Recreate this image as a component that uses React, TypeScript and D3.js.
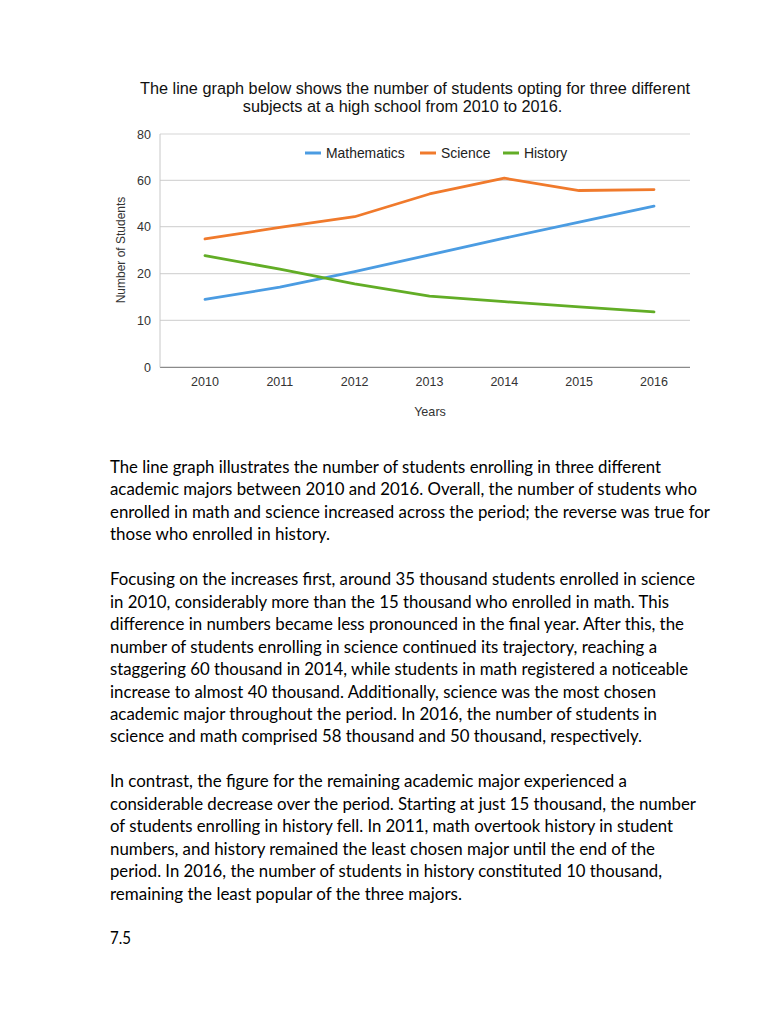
import React from "react";
import * as d3 from "d3";

const years = [2010, 2011, 2012, 2013, 2014, 2015, 2016];
const yTicks = [0, 10, 20, 40, 60, 80];
const mathematics = [14.5, 17.1, 20.9, 28.0, 35.1, 42.0, 48.9];
const science = [34.8, 39.7, 44.3, 54.1, 60.9, 55.6, 56.0];
const history = [27.7, 21.9, 17.8, 15.2, 14.0, 12.9, 11.8];
const seriesNames = ["Mathematics", "Science", "History"];
const seriesColors = ["#4b9ce2", "#f07a2c", "#62ad26"];

const titleLines = [
  "The line graph below shows the number of students opting for three different",
  "subjects at a high school from 2010 to 2016.",
];

const paragraphs = [
  [
    "The line graph illustrates the number of students enrolling in three different",
    "academic majors between 2010 and 2016. Overall, the number of students who",
    "enrolled in math and science increased across the period; the reverse was true for",
    "those who enrolled in history.",
  ],
  [
    "Focusing on the increases first, around 35 thousand students enrolled in science",
    "in 2010, considerably more than the 15 thousand who enrolled in math. This",
    "difference in numbers became less pronounced in the final year. After this, the",
    "number of students enrolling in science continued its trajectory, reaching a",
    "staggering 60 thousand in 2014, while students in math registered a noticeable",
    "increase to almost 40 thousand. Additionally, science was the most chosen",
    "academic major throughout the period. In 2016, the number of students in",
    "science and math comprised 58 thousand and 50 thousand, respectively.",
  ],
  [
    "In contrast, the figure for the remaining academic major experienced a",
    "considerable decrease over the period. Starting at just 15 thousand, the number",
    "of students enrolling in history fell. In 2011, math overtook history in student",
    "numbers, and history remained the least chosen major until the end of the",
    "period. In 2016, the number of students in history constituted 10 thousand,",
    "remaining the least popular of the three majors.",
  ],
  ["7.5"],
];

// layout: right edge of each paragraph line as laid out in the page
const lineRightEdges = [
  [661, 697, 710, 330],
  [695, 669, 684, 657, 688, 656, 657, 642],
  [627, 696, 673, 655, 662, 462],
  [131],
];

export default function App() {
  const W = 768;
  const H = 1024;
  const plotLeft = 160;
  const plotRight = 690;
  const x = d3.scaleLinear().domain([2010, 2016]).range([205, 654]);
  const y = d3
    .scaleLinear()
    .domain(yTicks)
    .range([367.3, 320.3, 273.7, 226.7, 180.3, 134]);
  const data = [mathematics, science, history];
  const line = d3
    .line<number>()
    .x((_, i) => x(years[i]))
    .y((d) => y(d));

  const chartFont = "'Liberation Sans', Arial, sans-serif";
  const textFont = "Lato, 'Open Sans', sans-serif";

  const legendItems = [
    { sx: 305, tx: 326 },
    { sx: 420, tx: 441 },
    { sx: 503, tx: 524 },
  ];

  let lineY = 473;
  const paraLines: { text: string; y: number; right: number }[] = [];
  paragraphs.forEach((p, pi) => {
    p.forEach((t, li) => {
      paraLines.push({ text: t, y: lineY, right: lineRightEdges[pi][li] });
      lineY += 22.45;
    });
    lineY += 22.45;
  });

  return (
    <svg
      width={W}
      height={H}
      style={{ position: "absolute", left: 0, top: 0, background: "#fff" }}
    >
      <rect x={0} y={0} width={W} height={H} fill="#fff" />
      {/* Title */}
      <text x={415} y={93.5} textAnchor="middle" fontFamily={chartFont} fontSize={16.3} fill="#111">
        {titleLines[0]}
      </text>
      <text x={402.5} y={111.5} textAnchor="middle" fontFamily={chartFont} fontSize={16.3} fill="#111">
        {titleLines[1]}
      </text>

      {/* Gridlines */}
      {yTicks.map((t) => (
        <line
          key={t}
          x1={plotLeft}
          x2={plotRight}
          y1={y(t)}
          y2={y(t)}
          stroke={t === 0 ? "#8a8a8a" : "#d6d6d6"}
          strokeWidth={1.2}
        />
      ))}
      <line x1={plotLeft} x2={plotLeft} y1={y(80)} y2={y(0)} stroke="#c8c8c8" strokeWidth={1} />

      {/* Y tick labels */}
      {yTicks.map((t) => (
        <text
          key={t}
          x={151}
          y={y(t) + 4.5}
          textAnchor="end"
          fontFamily={chartFont}
          fontSize={12.5}
          fill="#333"
        >
          {t}
        </text>
      ))}
      {/* X tick labels */}
      {years.map((yr) => (
        <text
          key={yr}
          x={x(yr)}
          y={386}
          textAnchor="middle"
          fontFamily={chartFont}
          fontSize={12.5}
          fill="#333"
        >
          {yr}
        </text>
      ))}
      <text x={430} y={415.5} textAnchor="middle" fontFamily={chartFont} fontSize={12.6} fill="#333">
        Years
      </text>
      <text
        transform="translate(125,250) rotate(-90)"
        textAnchor="middle"
        fontFamily={chartFont}
        fontSize={12}
        fill="#333"
      >
        Number of Students
      </text>

      {/* Lines */}
      {data.map((d, i) => (
        <path
          key={seriesNames[i]}
          d={line(d) || ""}
          fill="none"
          stroke={seriesColors[i]}
          strokeWidth={2.8}
          strokeLinejoin="round"
          strokeLinecap="round"
        />
      ))}

      {/* Legend */}
      {seriesNames.map((n, i) => (
        <g key={n}>
          <line
            x1={legendItems[i].sx}
            x2={legendItems[i].sx + 16}
            y1={153}
            y2={153}
            stroke={seriesColors[i]}
            strokeWidth={3}
          />
          <text x={legendItems[i].tx} y={158} fontFamily={chartFont} fontSize={13.9} fill="#222">
            {n}
          </text>
        </g>
      ))}

      {/* Paragraph text */}
      {paraLines.map((l, i) => (
        <text
          key={i}
          x={110}
          y={l.y}
          fontFamily={textFont}
          fontSize={16.8}
          fill="#000"
          textLength={l.right - 110}
          lengthAdjust="spacingAndGlyphs"
        >
          {l.text}
        </text>
      ))}
    </svg>
  );
}
